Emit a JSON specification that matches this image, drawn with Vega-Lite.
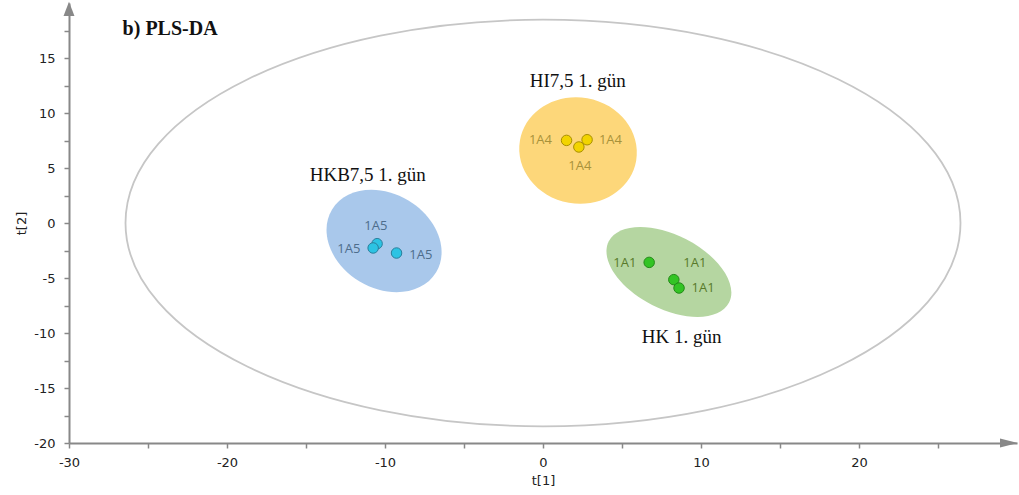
{
  "$schema": "https://vega.github.io/schema/vega-lite/v6.json",
  "width": 948,
  "height": 440,
  "autosize": "none",
  "padding": {"left": 69, "top": 3, "right": 2, "bottom": 52},
  "background": "white",
  "config": {
    "view": {"stroke": null},
    "axis": {
      "grid": false,
      "domainColor": "#888888",
      "domainWidth": 2,
      "tickColor": "#888888",
      "tickWidth": 1.5,
      "tickSize": 5,
      "labelFont": "DejaVu Sans",
      "labelFontSize": 13,
      "labelColor": "#222222",
      "labelOverlap": false,
      "labelFlush": false,
      "labelBound": false,
      "titleFont": "DejaVu Sans",
      "titleFontSize": 13,
      "titleFontWeight": "normal",
      "titleColor": "#222222"
    }
  },
  "datasets": {
    "points": [
      {"group": "HI7,5", "x": 1.49, "y": 7.51},
      {"group": "HI7,5", "x": 2.79, "y": 7.57},
      {"group": "HI7,5", "x": 2.27, "y": 6.91},
      {"group": "HKB7,5", "x": -10.50, "y": -1.88},
      {"group": "HKB7,5", "x": -10.75, "y": -2.27},
      {"group": "HKB7,5", "x": -9.27, "y": -2.73},
      {"group": "HK", "x": 6.72, "y": -3.58},
      {"group": "HK", "x": 8.28, "y": -5.15},
      {"group": "HK", "x": 8.61, "y": -5.91}
    ],
    "pointLabels": [
      {"group": "HI7,5", "label": "1A4", "x": -0.16, "y": 7.51},
      {"group": "HI7,5", "label": "1A4", "x": 4.27, "y": 7.51},
      {"group": "HI7,5", "label": "1A4", "x": 2.33, "y": 5.21},
      {"group": "HKB7,5", "label": "1A5", "x": -10.58, "y": -0.31},
      {"group": "HKB7,5", "label": "1A5", "x": -12.29, "y": -2.34},
      {"group": "HKB7,5", "label": "1A5", "x": -7.73, "y": -2.88},
      {"group": "HK", "label": "1A1", "x": 5.18, "y": -3.64},
      {"group": "HK", "label": "1A1", "x": 9.61, "y": -3.64},
      {"group": "HK", "label": "1A1", "x": 10.13, "y": -5.91}
    ],
    "groupCentres": [
      {"group": "HI7,5", "x": 2.22, "y": 6.59},
      {"group": "HKB7,5", "x": -10.06, "y": -1.64},
      {"group": "HK", "x": 7.97, "y": -4.45}
    ],
    "hotelling": [{"x": 0, "y": 0}],
    "axisEnds": [
      {"axis": "t2", "x": -30, "y": 20},
      {"axis": "t1", "x": 30, "y": -20}
    ],
    "groupNames": [
      {"text": "HI7,5 1. gün", "x": 2.2, "y": 12.87},
      {"text": "HKB7,5 1. gün", "x": -11.09, "y": 4.39},
      {"text": "HK 1. gün", "x": 8.77, "y": -10.36}
    ],
    "heading": [{"text": "b) PLS-DA", "x": -23.6, "y": 17.6}]
  },
  "encoding": {
    "x": {
      "field": "x",
      "type": "quantitative",
      "scale": {"domain": [-30, 30], "nice": false, "zero": false},
      "axis": {
        "title": "t[1]",
        "values": [-30, -25, -20, -15, -10, -5, 0, 5, 10, 15, 20, 25],
        "labelExpr": "datum.value % 10 === 0 ? '' + datum.value : ''",
        "labelPadding": 8,
        "titlePadding": 5
      }
    },
    "y": {
      "field": "y",
      "type": "quantitative",
      "scale": {"domain": [-20, 20], "nice": false, "zero": false},
      "axis": {
        "title": "t[2]",
        "values": [-20, -17.5, -15, -12.5, -10, -7.5, -5, -2.5, 0, 2.5, 5, 7.5, 10, 12.5, 15, 17.5],
        "labelExpr": "datum.value % 5 === 0 ? '' + datum.value : ''",
        "labelPadding": 9,
        "titlePadding": 5
      }
    }
  },
  "layer": [
    {
      "data": {"name": "hotelling"},
      "mark": {
        "type": "point",
        "filled": false,
        "shape": "M -1,0 C -1,-0.269 -0.5523,-0.487 0,-0.487 C 0.5523,-0.487 1,-0.269 1,0 C 1,0.269 0.5523,0.487 0,0.487 C -0.5523,0.487 -1,0.269 -1,0 Z",
        "size": 697225,
        "stroke": "#c6c6c6",
        "strokeWidth": 1.8,
        "opacity": 1
      }
    },
    {
      "data": {"name": "groupCentres"},
      "transform": [{"filter": "datum.group === 'HI7,5'"}],
      "mark": {
        "type": "point",
        "filled": true,
        "shape": "M -1,0 C -1,-0.497 -0.5523,-0.9 0,-0.9 C 0.5523,-0.9 1,-0.497 1,0 C 1,0.497 0.5523,0.9 0,0.9 C -0.5523,0.9 -1,0.497 -1,0 Z",
        "size": 13924,
        "angle": 10,
        "fill": "#fdd77a",
        "opacity": 1
      }
    },
    {
      "data": {"name": "groupCentres"},
      "transform": [{"filter": "datum.group === 'HKB7,5'"}],
      "mark": {
        "type": "point",
        "filled": true,
        "shape": "M -1,0 C -1,-0.4297 -0.5523,-0.778 0,-0.778 C 0.5523,-0.778 1,-0.4297 1,0 C 1,0.4297 0.5523,0.778 0,0.778 C -0.5523,0.778 -1,0.4297 -1,0 Z",
        "size": 14787,
        "angle": 31,
        "fill": "#a9c8eb",
        "opacity": 1
      }
    },
    {
      "data": {"name": "groupCentres"},
      "transform": [{"filter": "datum.group === 'HK'"}],
      "mark": {
        "type": "point",
        "filled": true,
        "shape": "M -1,0 C -1,-0.3027 -0.5523,-0.548 0,-0.548 C 0.5523,-0.548 1,-0.3027 1,0 C 1,0.3027 0.5523,0.548 0,0.548 C -0.5523,0.548 -1,0.3027 -1,0 Z",
        "size": 18225,
        "angle": 27,
        "fill": "#b5d6a1",
        "opacity": 1
      }
    },
    {
      "data": {"values": [{}]},
      "mark": {"type": "rule", "color": "#999999", "strokeWidth": 1.5},
      "encoding": {
        "x": {"datum": 0, "type": "quantitative"},
        "y": {"datum": -20, "type": "quantitative"},
        "y2": {"datum": 20}
      }
    },
    {
      "data": {"values": [{}]},
      "mark": {"type": "rule", "color": "#999999", "strokeWidth": 1.5},
      "encoding": {
        "y": {"datum": 0, "type": "quantitative"},
        "x": {"datum": -30, "type": "quantitative"},
        "x2": {"datum": 30}
      }
    },
    {
      "data": {"name": "axisEnds"},
      "transform": [{"filter": "datum.axis === 't2'"}],
      "mark": {"type": "point", "filled": true, "shape": "M 0,-0.1 L 0.42,1 L -0.42,1 Z", "size": 676, "fill": "#888888", "opacity": 1}
    },
    {
      "data": {"name": "axisEnds"},
      "transform": [{"filter": "datum.axis === 't1'"}],
      "mark": {"type": "point", "filled": true, "shape": "M 0.05,0 L -1,-0.27 L -1,0.27 Z", "size": 1156, "fill": "#888888", "opacity": 1}
    },
    {
      "data": {"name": "points"},
      "mark": {"type": "point", "filled": true, "shape": "circle", "size": 110, "strokeWidth": 1, "opacity": 1},
      "encoding": {
        "fill": {
          "field": "group",
          "type": "nominal",
          "scale": {"domain": ["HI7,5", "HKB7,5", "HK"], "range": ["#f2d400", "#2cc3e3", "#33c424"]},
          "legend": null
        },
        "stroke": {
          "field": "group",
          "type": "nominal",
          "scale": {"domain": ["HI7,5", "HKB7,5", "HK"], "range": ["#a88e00", "#2a7f9c", "#238a18"]},
          "legend": null
        }
      }
    },
    {
      "data": {"name": "pointLabels"},
      "mark": {"type": "text", "font": "Open Sans", "fontSize": 13, "align": "center", "baseline": "middle"},
      "encoding": {
        "text": {"field": "label"},
        "color": {
          "field": "group",
          "type": "nominal",
          "scale": {"domain": ["HI7,5", "HKB7,5", "HK"], "range": ["#a8923a", "#4d6d8c", "#587a2a"]},
          "legend": null
        }
      }
    },
    {
      "data": {"name": "groupNames"},
      "mark": {"type": "text", "font": "Liberation Serif", "fontSize": 19, "align": "center", "baseline": "middle", "color": "#111111"},
      "encoding": {"text": {"field": "text"}}
    },
    {
      "data": {"name": "heading"},
      "mark": {"type": "text", "font": "Liberation Serif", "fontSize": 20, "fontWeight": "bold", "align": "center", "baseline": "middle", "color": "#111111"},
      "encoding": {"text": {"field": "text"}}
    }
  ]
}
